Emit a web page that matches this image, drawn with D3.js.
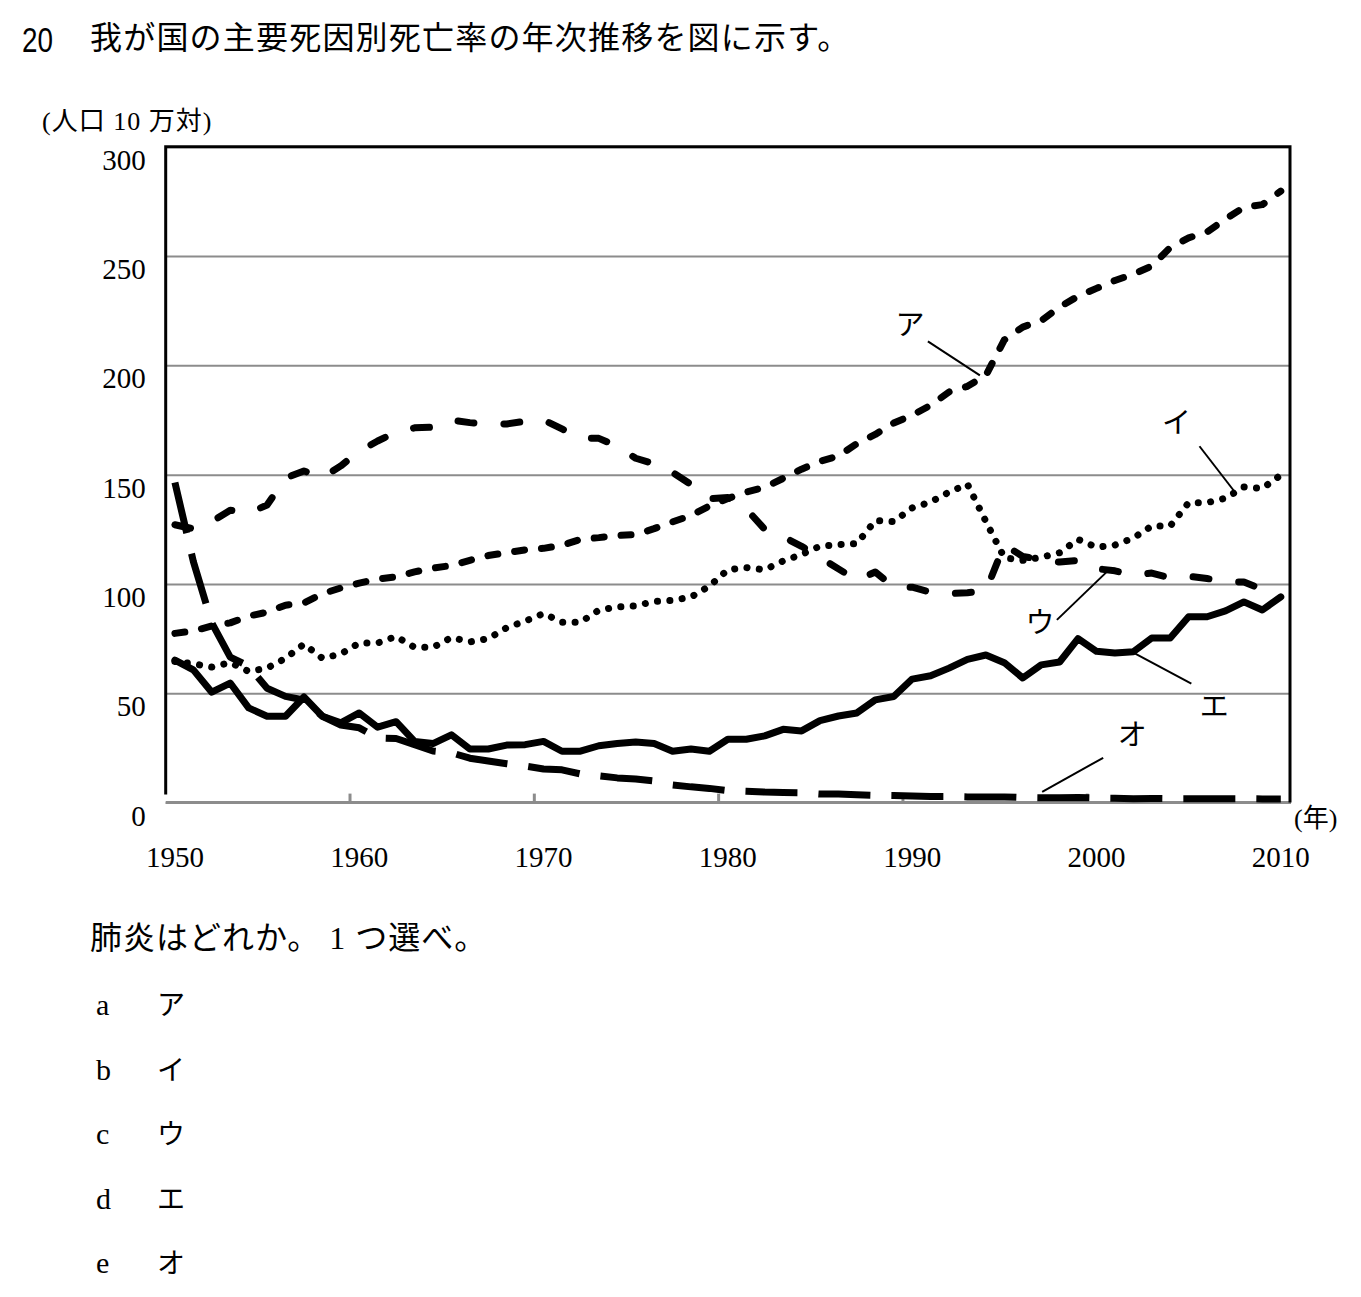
<!DOCTYPE html>
<html>
<head>
<meta charset="utf-8">
<script src="https://cdnjs.cloudflare.com/ajax/libs/d3/7.8.5/d3.min.js"></script>
<style>
  body { margin: 0; background: #fff; }
  text { fill: #000; }
</style>
</head>
<body>
<script>
var WIDTH = 1361,
    HEIGHT = 1297;

// years on the category axis
var years = [1950,1951,1952,1953,1954,1955,1956,1957,1958,1959,
             1960,1961,1962,1963,1964,1965,1966,1967,1968,1969,
             1970,1971,1972,1973,1974,1975,1976,1977,1978,1979,
             1980,1981,1982,1983,1984,1985,1986,1987,1988,1989,
             1990,1991,1992,1993,1994,1995,1996,1997,1998,1999,
             2000,2001,2002,2003,2004,2005,2006,2007,2008,2009,2010];
var yearLabels = [1950, 1960, 1970, 1980, 1990, 2000, 2010];
var yTicks = [0, 50, 100, 150, 200, 250, 300];

// rates per 100,000
var seriesA = [77.4,78.5,80.8,82.2,85.3,87.1,90.3,91.3,95.5,98.2,
               100.4,102.3,103.2,105.5,107.3,108.4,110.8,113.0,114.3,115.6,
               116.3,117.7,120.4,121.2,122.2,122.6,125.3,128.4,131.3,135.7,
               139.1,142.0,144.2,148.3,152.5,156.1,158.5,164.2,168.4,173.6,
               177.2,181.7,187.8,190.4,195.4,211.6,217.5,220.4,226.7,231.6,
               235.2,238.8,241.7,245.4,253.9,258.3,261.0,266.9,272.3,273.5,279.7];
var seriesI = [64.5,63.5,62,64,60,61.5,66,72.5,66,68,
               73,73,76,71,71,75.5,73.5,75,80,83,
               86.5,82.5,82.5,88,89.5,90,92,92.5,94,99,
               106.5,107.5,106.5,110.5,113.5,117.3,118,118.5,129,128.5,
               134.8,137.5,142,145.6,128.6,112,110.8,112.2,114.3,120.4,
               116.8,117.8,121,126.5,126.5,137.2,137.2,139.2,144.4,143.7,149.8];
var seriesU = [127.1,125.2,128.5,133.7,132.4,136.1,148.4,151.7,148.6,154.0,
               160.7,165.4,169.4,171.4,171.7,175.0,173.8,173.1,173.2,174.4,
               175.0,170.9,166.7,166.6,163.0,157.5,155.0,151.0,145.5,139.0,
               139.5,134.3,125.0,121.6,117.2,112.2,106.9,101.7,105.5,98.5,
               98.5,96.2,95.6,96.0,96.9,117.9,112.6,111.0,110.0,110.8,
               107.0,106.0,104.0,105.0,102.8,103.5,102.5,101.0,100.9,97.5,96.0];
var seriesE = [65.2,60.7,50.5,54.7,43.3,39.5,39.5,48.3,39.5,36.5,
               41,34.5,37,28,27,31,24.5,24.5,26.3,26.5,
               28,23.5,23.5,26,27,27.7,27,23.5,24.5,23.5,
               29,29,30.5,33.5,32.8,37.5,39.6,41,47,48.5,
               56.5,58,61.5,65.5,67.5,64,57,63,64.3,75,
               69.2,68.4,69,75.3,75.3,85,85,87.7,91.8,88.1,94.1];
var seriesO = [146.4,110.3,82.2,66.5,62.4,52.3,48.6,46.9,39.5,35.5,
               34.2,29.6,29.3,26.5,23.6,22.8,20.3,19.0,17.8,16.7,
               15.4,15.0,13.1,12.2,11.3,10.8,9.9,8.1,7.2,6.5,
               5.5,5.2,4.8,4.6,4.5,3.9,3.9,3.6,3.3,3.2,
               3.0,2.8,2.8,2.6,2.6,2.6,2.3,2.2,2.2,2.3,
               2.1,2.0,1.8,1.9,1.8,1.8,1.8,1.8,1.8,1.7,1.7];

var seriesNames = ["ア", "イ", "ウ", "エ", "オ"];
var choiceLetters = ["a", "b", "c", "d", "e"];
// which year each leader line points at
var calloutYears = [1994, 2007, 2001, 2002, 1997];

var SERIF = "'Liberation Serif','Noto Sans CJK JP',serif";

var plotL = 165.7, plotR = 1290, plotT = 146.7, plotB = 802.6;

var svg = d3.select("body").append("svg")
    .attr("width", WIDTH)
    .attr("height", HEIGHT)
    .style("background", "#fff");

var x = d3.scaleBand().domain(years).range([plotL, plotR]);
var y = d3.scaleLinear().domain([0, 300]).range([plotB, plotT]);
var cx = function(yr){ return x(yr) + x.bandwidth() / 2; };

// title
svg.append("text")
    .attr("x", 22).attr("y", 52)
    .attr("textLength", 31).attr("lengthAdjust", "spacingAndGlyphs")
    .style("font-family", "'Liberation Sans',Arial,sans-serif")
    .style("font-size", "35px")
    .text("20");
svg.append("text")
    .attr("x", 90).attr("y", 49)
    .style("font-family", SERIF)
    .style("font-size", "32px")
    .style("letter-spacing", "1.2px")
    .text("我が国の主要死因別死亡率の年次推移を図に示す。");

// unit labels
svg.append("text")
    .attr("x", 42).attr("y", 130)
    .style("font-family", SERIF).style("font-size", "26px")
    .style("letter-spacing", "1px")
    .text("(人口 10 万対)");
svg.append("text")
    .attr("x", 1294).attr("y", 827)
    .style("font-family", SERIF).style("font-size", "26px")
    .text("(年)");

// gridlines + y labels
var yAxis = svg.append("g")
    .attr("transform", "translate(" + plotL + ",0)")
    .call(d3.axisLeft(y).tickValues(yTicks).tickSize(-(plotR - plotL)).tickPadding(20));
yAxis.select(".domain").remove();
yAxis.selectAll(".tick line")
    .attr("stroke", "#8c8c8c")
    .attr("stroke-width", 2);
yAxis.selectAll(".tick text")
    .attr("dy", 22.5)
    .style("font-family", SERIF)
    .style("font-size", "29px")
    .attr("fill", "#000");

// x labels
var xAxis = svg.append("g")
    .attr("transform", "translate(0," + plotB + ")")
    .call(d3.axisBottom(x).tickValues(yearLabels).tickSize(0).tickPadding(0));
xAxis.select(".domain").remove();
xAxis.selectAll(".tick text")
    .attr("y", 64).attr("dy", 0)
    .style("font-family", SERIF)
    .style("font-size", "29px")
    .attr("fill", "#000");

// bottom axis (grey) with ticks on decade boundaries
svg.append("line")
    .attr("x1", plotL).attr("x2", plotR + 1)
    .attr("y1", plotB).attr("y2", plotB)
    .attr("stroke", "#8c8c8c").attr("stroke-width", 3);
svg.selectAll(".xtick")
    .data(yearLabels.slice(1, -1))
  .enter().append("line")
    .attr("class", "xtick")
    .attr("x1", function(d){ return x(d); })
    .attr("x2", function(d){ return x(d); })
    .attr("y1", plotB).attr("y2", plotB - 9)
    .attr("stroke", "#8c8c8c").attr("stroke-width", 3);

// black frame on left, top, right
svg.append("path")
    .attr("d", "M" + plotL + "," + (plotB - 8) + "V" + plotT + "H" + plotR + "V" + plotB)
    .attr("fill", "none")
    .attr("stroke", "#000")
    .attr("stroke-width", 3);

// series lines
var line = d3.line()
    .x(function(d, i){ return cx(years[i]); })
    .y(function(d){ return y(d); });

var styles = [
  { data: seriesA, dash: "10,17", cap: "round" },
  { data: seriesI, dash: "0.1,12.3", cap: "round" },
  { data: seriesU, dash: "16,30", cap: "round" },
  { data: seriesE, dash: null, cap: "round" },
  { data: seriesO, dash: "52,21", cap: "butt" }
];

styles.forEach(function(s){
  svg.append("path")
      .datum(s.data)
      .attr("d", line)
      .attr("fill", "none")
      .attr("stroke", "#000")
      .attr("stroke-width", 7)
      .attr("stroke-linejoin", "round")
      .attr("stroke-linecap", s.cap)
      .attr("stroke-dasharray", s.dash);
});

// callouts: leader line offsets and label offsets from the pointed data point
var offsets = [
  { end: [-6, 0],  start: [-58, -34], label: [-76, -50] },
  { end: [8, -8],  start: [-26, -52], label: [-49, -75] },
  { end: [-4, -3], start: [-58, 49],  label: [-75, 52] },
  { end: [0, 1],   start: [58, 32],   label: [81, 55] },
  { end: [1, -6],  start: [62, -40],  label: [91, -63] }
];

seriesNames.forEach(function(name, i){
  var yr = calloutYears[i];
  var v = styles[i].data[years.indexOf(yr)];
  var px = cx(yr), py = y(v), o = offsets[i];
  svg.append("line")
      .attr("x1", px + o.start[0]).attr("y1", py + o.start[1])
      .attr("x2", px + o.end[0]).attr("y2", py + o.end[1])
      .attr("stroke", "#000").attr("stroke-width", 2);
  svg.append("text")
      .attr("x", px + o.label[0]).attr("y", py + o.label[1])
      .attr("text-anchor", "middle")
      .attr("dominant-baseline", "central")
      .style("font-family", SERIF)
      .style("font-size", "29px")
      .text(name);
});

// question and choices
svg.append("text")
    .attr("x", 90).attr("y", 949)
    .style("font-family", SERIF).style("font-size", "32px")
    .style("letter-spacing", "1px")
    .text("肺炎はどれか。 1 つ選べ。");

choiceLetters.forEach(function(c, i){
  var by = 1015 + i * 64.5;
  svg.append("text")
      .attr("x", 96).attr("y", by)
      .style("font-family", SERIF).style("font-size", "30px")
      .text(c);
  svg.append("text")
      .attr("x", 157).attr("y", by)
      .style("font-family", SERIF).style("font-size", "28px")
      .text(seriesNames[i]);
});
</script>
</body>
</html>
